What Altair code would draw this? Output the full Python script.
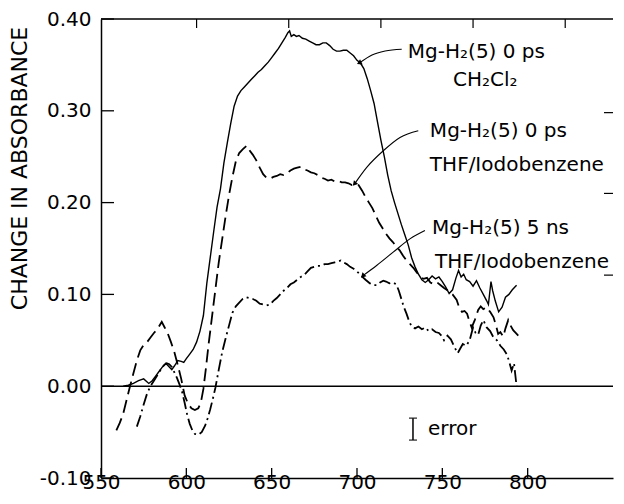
import altair as alt
import pandas as pd

FONT = "DejaVu Sans"
W, H = 512, 459

# ---------------- data ----------------
x_ticks = [550, 600, 650, 700, 750, 800]
y_ticks = [-0.1, 0.0, 0.1, 0.2, 0.3, 0.4]
top_ticks = [606, 660, 714, 768, 822]
right_ticks = [0.298, 0.21, 0.121]

# Mg-H2(5) 0 ps in CH2Cl2 (solid)
solid_x = [563, 566, 569, 572, 575, 578, 580, 582, 584, 586, 588, 590, 591.5, 593, 595, 597, 598.5,
           600, 602, 604, 606, 608, 610, 612, 614, 616, 618, 620, 622, 624, 626, 628, 630, 632, 634,
           636, 638, 640, 642, 644, 646, 648, 650, 652, 654, 656, 658, 659.5, 660.5, 661.5, 663, 664.5,
           666, 668, 670, 672, 674, 676, 678, 680, 682, 684, 686, 688, 690, 692, 694, 696, 698, 700,
           702, 704, 706, 708, 710, 712, 714, 716, 718, 720, 722, 724, 726, 728, 730, 732, 734, 736,
           738, 740, 742, 744, 746, 748, 750, 752, 754, 756, 758, 759.5, 761, 762.5, 764, 766, 768,
           770, 772, 774, 776, 777, 778.5, 779.5, 781, 783, 785, 787, 789, 791, 793.5]
solid_y = [0.0, 0.001, 0.003, 0.006, 0.008, 0.003, 0.006, 0.011, 0.016, 0.021, 0.025, 0.021, 0.018,
           0.022, 0.028, 0.027, 0.026, 0.03, 0.035, 0.04, 0.048, 0.06, 0.077, 0.112, 0.14, 0.168,
           0.195, 0.215, 0.243, 0.265, 0.286, 0.305, 0.316, 0.322, 0.326, 0.33, 0.334, 0.338, 0.342,
           0.345, 0.349, 0.353, 0.358, 0.363, 0.368, 0.374, 0.38, 0.385, 0.387, 0.381, 0.383, 0.381,
           0.382, 0.379, 0.378, 0.376, 0.374, 0.372, 0.372, 0.374, 0.374, 0.371, 0.367, 0.365, 0.365,
           0.366, 0.366, 0.363, 0.36, 0.355, 0.352, 0.346, 0.335, 0.322, 0.308, 0.288, 0.268, 0.25,
           0.23, 0.213, 0.2, 0.188, 0.176, 0.165, 0.154, 0.14, 0.13, 0.122, 0.116, 0.113, 0.116,
           0.12, 0.117, 0.119, 0.114, 0.108, 0.101, 0.105, 0.118, 0.126, 0.119, 0.122, 0.116, 0.114,
           0.109, 0.115, 0.107, 0.1, 0.093, 0.089, 0.114, 0.104, 0.093, 0.081, 0.086, 0.097, 0.1,
           0.105, 0.11]

# Mg-H2(5) 0 ps in THF/Iodobenzene (dashed)
dashed_x = [559, 561, 563, 565, 567, 569, 571, 573, 575, 577, 579, 581, 583, 585.6, 587, 589, 591, 593,
            595, 597, 599, 601, 603, 605, 607, 608.5, 610, 611.5, 613, 615, 617, 619, 621, 623, 625,
            627, 629, 631, 633, 635.4, 637, 639, 641, 643, 645, 647, 649, 651, 653, 655, 657, 659,
            661, 663, 665, 667, 669, 671, 673, 675, 677, 679, 681, 683, 685, 687, 689, 691, 693, 695,
            697, 699, 701, 703, 705, 707, 709, 711, 713, 715, 717, 719, 721, 723, 725, 727, 729, 731,
            733, 735, 737, 739, 741, 743, 745, 747, 749, 751, 753.5, 756, 758.4, 760, 761.5, 763,
            764.5, 766, 767.2, 769, 771, 772.5, 774, 776, 778, 780, 781.5, 782.7, 784, 785.7, 787,
            788.6, 790, 791.5, 793, 794.5]
dashed_y = [-0.048, -0.04, -0.03, -0.015, 0.0, 0.014, 0.028, 0.039, 0.045, 0.048, 0.053, 0.058, 0.062,
            0.07, 0.065, 0.058, 0.048, 0.037, 0.023, 0.008, -0.01, -0.019, -0.024, -0.026, -0.024,
            -0.018, -0.003, 0.02, 0.045, 0.075, 0.105, 0.135, 0.16, 0.185, 0.208, 0.228, 0.245, 0.254,
            0.258, 0.262, 0.257, 0.252, 0.246, 0.238, 0.231, 0.227, 0.226, 0.228, 0.229, 0.231, 0.23,
            0.232, 0.235, 0.237, 0.238, 0.239, 0.236, 0.235, 0.233, 0.232, 0.23, 0.227, 0.226, 0.224,
            0.225, 0.223, 0.224, 0.222, 0.222, 0.221, 0.219, 0.22, 0.219, 0.213, 0.206, 0.2, 0.194,
            0.186, 0.178, 0.172, 0.166, 0.161, 0.157, 0.152, 0.148, 0.142, 0.137, 0.133, 0.129, 0.124,
            0.119, 0.117, 0.118, 0.113, 0.111, 0.113, 0.11, 0.107, 0.104, 0.1, 0.094, 0.085, 0.081,
            0.082, 0.079, 0.07, 0.064, 0.072, 0.083, 0.087, 0.084, 0.086, 0.081, 0.075, 0.066, 0.057,
            0.059, 0.054, 0.063, 0.072, 0.066, 0.061, 0.058, 0.055]

# Mg-H2(5) 5 ns in THF/Iodobenzene (dash-dot)
dashdot_x = [571, 573, 575, 577, 579, 581, 583, 585, 587, 588.5, 590, 591.5, 593, 594.5, 596, 597.5,
             599, 600.5, 602, 603.5, 605, 607, 609, 611, 612.5, 614, 615.5, 617, 619, 621, 623, 625,
             627, 629, 631, 633, 635, 637, 639, 641, 643, 645, 647, 649, 651, 653, 655, 657, 659, 661,
             663, 665, 667, 669, 671, 673, 675, 677, 679, 681, 683, 685, 687, 689, 690.5, 692, 694,
             696, 698, 700, 702.7, 705, 707.6, 709.5, 711.5, 713.5, 715.4, 717, 719, 721, 723, 724.5,
             726, 727.5, 729, 730.5, 732, 734, 736, 738, 740, 742, 744, 746, 748, 749.5, 751, 753,
             755, 757, 759, 760.5, 762, 764, 766, 768, 769.5, 771, 772.5, 774, 776, 778, 780, 782,
             784, 786, 787.7, 789, 790.6, 792, 793.5]
dashdot_y = [-0.044, -0.033, -0.02, -0.008, 0.0, 0.006, 0.012, 0.018, 0.023, 0.025, 0.024, 0.021,
             0.015, 0.009, 0.002, -0.006, -0.018, -0.031, -0.041, -0.048, -0.052, -0.053, -0.05,
             -0.043, -0.035, -0.025, -0.014, -0.002, 0.018, 0.037, 0.052, 0.066, 0.08, 0.087, 0.091,
             0.095, 0.097, 0.096, 0.095, 0.093, 0.09, 0.089, 0.088, 0.089, 0.093, 0.096, 0.1, 0.104,
             0.107, 0.111, 0.113, 0.116, 0.119, 0.121, 0.125, 0.129, 0.13, 0.131, 0.131, 0.133, 0.133,
             0.134, 0.135, 0.136, 0.137, 0.135, 0.133, 0.13, 0.128, 0.125, 0.12, 0.116, 0.112, 0.11,
             0.11, 0.113, 0.115, 0.114, 0.112, 0.113, 0.111, 0.104, 0.095, 0.086, 0.079, 0.071, 0.065,
             0.063, 0.065, 0.062, 0.064, 0.06, 0.062, 0.059, 0.058, 0.055, 0.05, 0.055, 0.051, 0.043,
             0.036, 0.041, 0.046, 0.044, 0.05, 0.064, 0.058, 0.056, 0.066, 0.072, 0.064, 0.06, 0.053,
             0.05, 0.044, 0.04, 0.035, 0.028, 0.017, 0.025, 0.0]

# annotation texts
label_text = ["Mg-H\u2082(5) 0 ps", "CH\u2082Cl\u2082",
              "Mg-H\u2082(5) 0 ps", "THF/Iodobenzene",
              "Mg-H\u2082(5) 5 ns", "THF/Iodobenzene",
              "error"]
label_x = [729.8, 756.2, 742.7, 742.7, 743.9, 745.7, 741.6]
label_y = [0.3576, 0.3272, 0.271, 0.2348, 0.1663, 0.1293, -0.0533]

# leader lines (curved) from labels to the curves
leader_g = ["a"] * 4 + ["b"] * 5 + ["c"] * 5
leader_x = [701.7, 708.8, 716.5, 726.2,
            698.8, 705.7, 715.4, 725.2, 735.9,
            703.7, 711.5, 721.2, 731.0, 739.8]
leader_y = [0.3525, 0.3609, 0.3652, 0.3671,
            0.221, 0.2384, 0.2565, 0.271, 0.2783,
            0.1207, 0.1315, 0.146, 0.1605, 0.1696]
tip_x = [701.7, 698.8, 703.7]
tip_y = [0.3525, 0.221, 0.1207]
tip_angle = [243, 222, 225]

# error bar
err_x = [732.8]
err_lo = [-0.0587]
err_hi = [-0.0348]

# ---------------- chart ----------------
xscale = alt.Scale(domain=[550, 850], nice=False, zero=False)
yscale = alt.Scale(domain=[-0.1, 0.4], nice=False, zero=False)

x_axis = alt.Axis(values=x_ticks, format="d", labelFont=FONT, labelFontSize=20, labelColor="black",
                  ticks=False, tickSize=0, domainColor="black", domainWidth=1.5, grid=False,
                  labelBaseline="middle", labelPadding=4,
                  labelFlush=False, labelOverlap=False, title=None)
y_axis = alt.Axis(values=y_ticks,
                  labelExpr="datum.value < 0 ? '-' + format(-datum.value, '.2f') : format(datum.value, '.2f')",
                  labelFont=FONT, labelFontSize=20, labelColor="black",
                  ticks=False, tickSize=0, domainColor="black", domainWidth=1.5, grid=False,
                  labelPadding=10, labelFlush=False, labelOverlap=False,
                  title="CHANGE IN ABSORBANCE", titleFont=FONT, titleFontSize=22,
                  titleFontWeight="normal", titleColor="black", titleAngle=270,
                  titleX=-82, titleY=149, titleAlign="center", titleBaseline="middle")


def X(field="x"):
    return alt.X(f"{field}:Q", scale=xscale, axis=x_axis)


def Y(field="y"):
    return alt.Y(f"{field}:Q", scale=yscale, axis=y_axis)


df_solid = pd.DataFrame({"x": solid_x, "y": solid_y})
df_dashed = pd.DataFrame({"x": dashed_x, "y": dashed_y})
df_dashdot = pd.DataFrame({"x": dashdot_x, "y": dashdot_y})

solid = alt.Chart(df_solid).mark_line(color="black", strokeWidth=1.4).encode(x=X(), y=Y())
dashed = alt.Chart(df_dashed).mark_line(color="black", strokeWidth=1.8,
                                         strokeDash=[13, 6]).encode(x=X(), y=Y())
dashdot = alt.Chart(df_dashdot).mark_line(color="black", strokeWidth=1.8,
                                           strokeDash=[12, 4, 2, 4]).encode(x=X(), y=Y())

frame_df = pd.DataFrame({"x": [550, 550], "x2": [850, 850], "y": [0.0, 0.4]})
frame = alt.Chart(frame_df).mark_rule(color="black", strokeWidth=1.5).encode(
    x=X(), x2="x2:Q", y=Y())

yt = alt.Chart(pd.DataFrame({"y": y_ticks})).mark_rule(color="black", strokeWidth=1.3).encode(
    y=Y(), x=alt.value(0), x2=alt.value(13))
xt = alt.Chart(pd.DataFrame({"x": x_ticks})).mark_rule(color="black", strokeWidth=1.3).encode(
    x=X(), y=alt.value(H), y2=alt.value(H - 10))
tt = alt.Chart(pd.DataFrame({"x": top_ticks})).mark_rule(color="black", strokeWidth=1.2).encode(
    x=X(), y=alt.value(0), y2=alt.value(9))
rt = alt.Chart(pd.DataFrame({"y": right_ticks})).mark_rule(color="black", strokeWidth=1.2).encode(
    y=Y(), x=alt.value(W - 9), x2=alt.value(W))

leader = alt.Chart(pd.DataFrame({"x": leader_x, "y": leader_y, "g": leader_g})).mark_line(
    color="black", strokeWidth=1.1, interpolate="monotone").encode(x=X(), y=Y(), detail="g:N")
tips = alt.Chart(pd.DataFrame({"x": tip_x, "y": tip_y, "a": tip_angle})).mark_point(
    shape="triangle", filled=True, color="black", size=32, opacity=1).encode(
    x=X(), y=Y(), angle=alt.Angle("a:Q", scale=None))

err_v = alt.Chart(pd.DataFrame({"x": err_x, "y": err_lo, "y2": err_hi})).mark_rule(
    color="black", strokeWidth=1.5).encode(x=X(), y=Y(), y2="y2:Q")
err_h = alt.Chart(pd.DataFrame({"x": err_x * 2, "y": err_lo + err_hi})).mark_tick(
    color="black", thickness=1.5, size=8, orient="horizontal").encode(x=X(), y=Y())

labels = alt.Chart(pd.DataFrame({"x": label_x, "y": label_y, "t": label_text})).mark_text(
    align="left", baseline="alphabetic", font=FONT, fontSize=20, color="black").encode(
    x=X(), y=Y(), text="t:N")

chart = alt.layer(frame, yt, xt, tt, rt, dashdot, dashed, solid, leader, tips,
                  err_v, err_h, labels).properties(
    width=W, height=H,
    autosize=alt.AutoSizeParams(type="none"),
    padding={"left": 93, "top": 11, "right": 3, "bottom": 20},
    background="white",
).configure_view(stroke=None)

chart.save("out.html", embed_options={"renderer": "svg", "actions": False})
